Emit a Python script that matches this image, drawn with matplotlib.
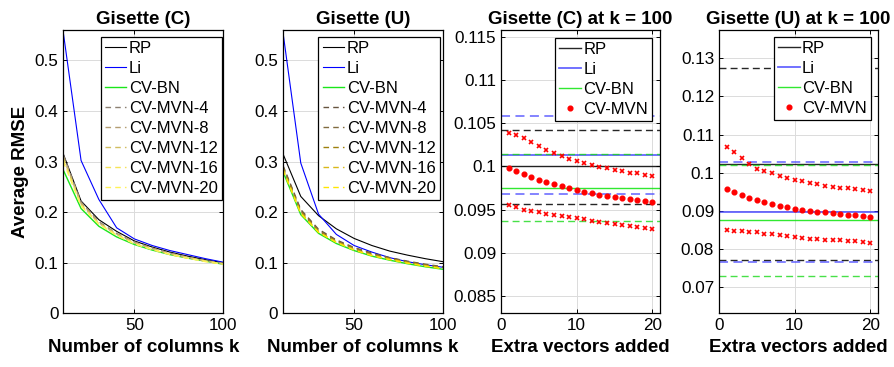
import matplotlib
matplotlib.use("Agg")
import matplotlib.pyplot as plt
from matplotlib.ticker import FuncFormatter

plt.rcParams['font.family'] = ['Liberation Sans', 'DejaVu Sans']

# ---- data: error vs number of columns k ----
k_cols = [10, 20, 30, 40, 50, 60, 70, 80, 90, 100]

c_rp = [0.315, 0.222, 0.185, 0.162, 0.143, 0.131, 0.121, 0.113, 0.106, 0.100]
c_li = [0.555, 0.302, 0.225, 0.169, 0.147, 0.134, 0.124, 0.116, 0.108, 0.101]
c_bn = [0.283, 0.207, 0.172, 0.151, 0.136, 0.125, 0.116, 0.109, 0.103, 0.097]
c_mvn4 = [0.313, 0.220, 0.181, 0.158, 0.141, 0.129, 0.119, 0.111, 0.104, 0.099]
c_mvn8 = [0.310, 0.218, 0.179, 0.157, 0.140, 0.128, 0.118, 0.110, 0.104, 0.098]
c_mvn12 = [0.307, 0.216, 0.178, 0.156, 0.139, 0.127, 0.117, 0.110, 0.103, 0.098]
c_mvn16 = [0.303, 0.214, 0.177, 0.155, 0.138, 0.126, 0.117, 0.109, 0.103, 0.097]
c_mvn20 = [0.300, 0.212, 0.176, 0.154, 0.137, 0.126, 0.116, 0.109, 0.102, 0.097]

u_rp = [0.315, 0.231, 0.193, 0.167, 0.148, 0.134, 0.123, 0.115, 0.108, 0.102]
u_li = [0.555, 0.297, 0.196, 0.156, 0.134, 0.121, 0.110, 0.102, 0.096, 0.091]
u_bn = [0.280, 0.195, 0.158, 0.138, 0.124, 0.113, 0.105, 0.098, 0.092, 0.087]
u_mvn4 = [0.292, 0.205, 0.166, 0.145, 0.130, 0.119, 0.110, 0.103, 0.097, 0.092]
u_mvn8 = [0.290, 0.203, 0.164, 0.143, 0.129, 0.118, 0.109, 0.102, 0.096, 0.091]
u_mvn12 = [0.288, 0.201, 0.162, 0.142, 0.127, 0.116, 0.108, 0.101, 0.095, 0.090]
u_mvn16 = [0.285, 0.199, 0.161, 0.141, 0.126, 0.115, 0.107, 0.100, 0.094, 0.089]
u_mvn20 = [0.283, 0.197, 0.160, 0.140, 0.125, 0.114, 0.106, 0.099, 0.093, 0.088]

mvn_labels = ['CV-MVN-4', 'CV-MVN-8', 'CV-MVN-12', 'CV-MVN-16', 'CV-MVN-20']

# ---- data: extra vectors added at k = 100 ----
extra = list(range(1, 21))

# Gisette (C): [mean, upper, lower] for each fixed method
c100_rp = [0.1000, 0.10426, 0.09566]
c100_li = [0.10136, 0.1058, 0.09682]
c100_bn = [0.09748, 0.10143, 0.09364]
c100_mvn = [0.09977, 0.09942, 0.09911, 0.09880, 0.09849, 0.09822, 0.09795,
            0.09771, 0.09748, 0.09729, 0.09710, 0.09690, 0.09674, 0.09659,
            0.09643, 0.09632, 0.09620, 0.09609, 0.09597, 0.09585]
c100_mvn_hi = [0.10391, 0.10364, 0.10326, 0.10283, 0.10236, 0.10194, 0.10155,
               0.10120, 0.10089, 0.10062, 0.10035, 0.10016, 0.09996, 0.09977,
               0.09957, 0.09942, 0.09930, 0.09919, 0.09903, 0.09891]
c100_mvn_lo = [0.09558, 0.09527, 0.09500, 0.09481, 0.09473, 0.09450, 0.09438,
               0.09426, 0.09415, 0.09403, 0.09388, 0.09372, 0.09360, 0.09349,
               0.09333, 0.09326, 0.09314, 0.09302, 0.09291, 0.09279]

# Gisette (U)
u100_rp = [0.1022, 0.1274, 0.0771]
u100_li = [0.0898, 0.1029, 0.0766]
u100_bn = [0.0876, 0.1020, 0.0730]
u100_mvn = [0.09581, 0.09493, 0.09415, 0.09336, 0.09275, 0.09223, 0.09170,
            0.09127, 0.09092, 0.09057, 0.09031, 0.09004, 0.08978, 0.08961,
            0.08943, 0.08926, 0.08900, 0.08882, 0.08865, 0.08847]
u100_mvn_hi = [0.10681, 0.10533, 0.10376, 0.10227, 0.10096, 0.10044, 0.09983,
               0.09913, 0.09860, 0.09808, 0.09773, 0.09730, 0.09694, 0.09660,
               0.09633, 0.09607, 0.09590, 0.09572, 0.09555, 0.09528]
u100_mvn_lo = [0.08498, 0.08480, 0.08463, 0.08454, 0.08454, 0.08410, 0.08384,
               0.08367, 0.08341, 0.08323, 0.08297, 0.08279, 0.08253, 0.08245,
               0.08236, 0.08227, 0.08210, 0.08201, 0.08175, 0.08157]

# colours
c_mvn_cols = [(0.55, 0.50, 0.45), (0.70, 0.62, 0.45), (0.82, 0.74, 0.38),
              (0.96, 0.89, 0.35), (1.00, 0.95, 0.35)]
u_mvn_cols = [(0.40, 0.33, 0.25), (0.50, 0.42, 0.25), (0.62, 0.50, 0.05),
              (0.85, 0.72, 0.10), (1.00, 0.90, 0.00)]

TICK_FS = 12.3
LAB_FS = 13.5


def style_axes(ax):
    ax.tick_params(direction='in', top=True, right=True, length=3,
                   labelsize=TICK_FS, width=0.7)
    ax.grid(True, color=(0.86, 0.86, 0.86), lw=0.7)
    ax.set_axisbelow(True)
    for s in ax.spines.values():
        s.set_linewidth(0.9)


def legend(ax, anchor):
    leg = ax.legend(loc='upper right', bbox_to_anchor=anchor, borderaxespad=0,
                    fontsize=12, fancybox=False, edgecolor='black', framealpha=1,
                    handlelength=1.3, handletextpad=0.15, labelspacing=0.3,
                    borderpad=0.25)
    leg.get_frame().set_linewidth(0.9)


def k_panel(ax, title, rp, li, bn, mvns, cols, anchor):
    ax.plot(k_cols, rp, color='black', lw=0.8, label='RP')
    ax.plot(k_cols, li, color='blue', lw=0.8, label='Li')
    ax.plot(k_cols, bn, color=(0.1, 0.9, 0.1), lw=1.0, label='CV-BN')
    for vals, col, lab in zip(mvns, cols, mvn_labels):
        ax.plot(k_cols, vals, color=col, lw=1.0, ls=(0, (4, 3)), label=lab)
    ax.set_xlim(10, 100)
    ax.set_ylim(0, 0.56)
    ax.set_xticks([50, 100])
    ax.set_yticks([0, 0.1, 0.2, 0.3, 0.4, 0.5])
    ax.yaxis.set_major_formatter(FuncFormatter(lambda v, p: '%g' % round(v, 3)))
    ax.set_title(title, fontsize=LAB_FS, fontweight='bold', pad=4)
    ax.set_xlabel('Number of columns k', fontsize=LAB_FS, fontweight='bold')
    style_axes(ax)
    legend(ax, anchor)


def extra_panel(ax, title, rp, li, bn, mvn, hi, lo, ylim, yticks, anchor):
    dash = (0, (5, 3))
    ax.axhline(rp[0], color='black', lw=1.0, alpha=0.85, label='RP')
    ax.axhline(li[0], color=(0.2, 0.2, 1.0), lw=1.3, alpha=0.75, label='Li')
    ax.axhline(bn[0], color=(0.1, 0.9, 0.1), lw=1.0, alpha=0.9, label='CV-BN')
    for v in rp[1:]:
        ax.axhline(v, color='black', lw=1.0, ls=dash, alpha=0.85)
    for v in li[1:]:
        ax.axhline(v, color=(0.3, 0.3, 1.0), lw=1.3, ls=dash, alpha=0.75)
    for v in bn[1:]:
        ax.axhline(v, color=(0.1, 0.85, 0.1), lw=1.0, ls=dash, alpha=0.8)
    ax.plot(extra, mvn, ls='none', marker='o', ms=3.4, color='red', mec='red',
            label='CV-MVN')
    ax.plot(extra, hi, ls='none', marker='x', ms=3.2, mew=1.2, color='red')
    ax.plot(extra, lo, ls='none', marker='x', ms=3.2, mew=1.2, color='red')
    ax.set_xlim(0, 21)
    ax.set_ylim(*ylim)
    ax.set_xticks([0, 10, 20])
    ax.set_yticks(yticks)
    ax.yaxis.set_major_formatter(FuncFormatter(lambda v, p: '%g' % round(v, 4)))
    ax.set_title(title, fontsize=LAB_FS, fontweight='bold', pad=4)
    ax.set_xlabel('Extra vectors added', fontsize=LAB_FS, fontweight='bold')
    style_axes(ax)
    legend(ax, anchor)


fig = plt.figure(figsize=(8.94, 3.67), dpi=100)
W, H = 894.0, 367.0
top, bot = 30, 313.3


def add_ax(x0, x1):
    return fig.add_axes([x0 / W, 1 - bot / H, (x1 - x0) / W, (bot - top) / H])


ax1 = add_ax(63.3, 223.3)
ax2 = add_ax(283, 443)
ax3 = add_ax(501, 660)
ax4 = add_ax(719, 878)

k_panel(ax1, 'Gisette (C)', c_rp, c_li, c_bn,
        [c_mvn4, c_mvn8, c_mvn12, c_mvn16, c_mvn20], c_mvn_cols, (0.992, 0.975))
k_panel(ax2, 'Gisette (U)', u_rp, u_li, u_bn,
        [u_mvn4, u_mvn8, u_mvn12, u_mvn16, u_mvn20], u_mvn_cols, (0.98, 0.975))
ax1.set_ylabel('Average RMSE', fontsize=LAB_FS, fontweight='bold')

extra_panel(ax3, 'Gisette (C) at k = 100', c100_rp, c100_li, c100_bn,
            c100_mvn, c100_mvn_hi, c100_mvn_lo, (0.083, 0.1158),
            [0.085, 0.09, 0.095, 0.1, 0.105, 0.11, 0.115], (0.95, 0.972))
extra_panel(ax4, 'Gisette (U) at k = 100', u100_rp, u100_li, u100_bn,
            u100_mvn, u100_mvn_hi, u100_mvn_lo, (0.0632, 0.1374),
            [0.07, 0.08, 0.09, 0.1, 0.11, 0.12, 0.13], (0.956, 0.975))

fig.savefig('out.png', dpi=100)
